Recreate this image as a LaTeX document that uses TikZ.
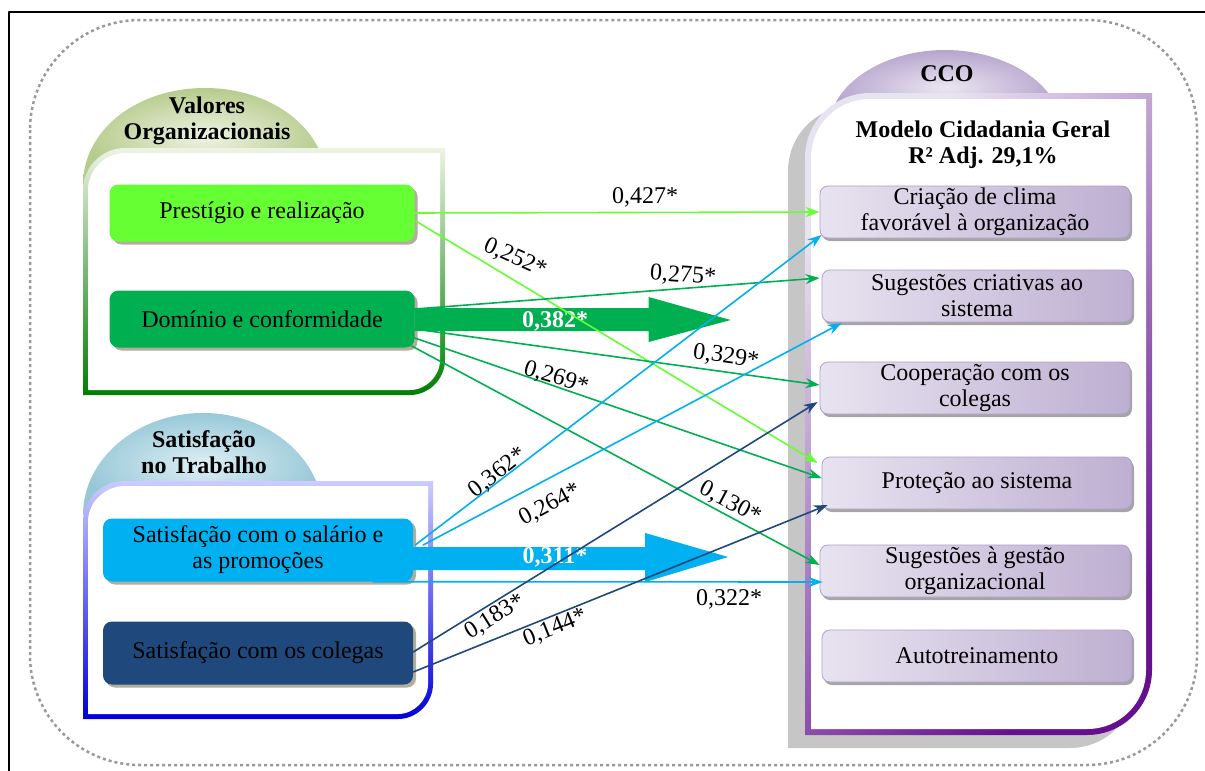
\documentclass[tikz,border=0pt]{standalone}
\usepackage{fontspec}
\setmainfont{Liberation Serif}
\usetikzlibrary{arrows.meta,calc,shadows}

\definecolor{verdeclaro}{HTML}{66FF33}
\definecolor{verde}{HTML}{00B050}
\definecolor{azulclaro}{HTML}{00B0F0}
\definecolor{azulesc}{HTML}{1F497D}
\definecolor{lil1}{HTML}{E8E3F0}
\definecolor{lil2}{HTML}{BDAFD1}
\definecolor{lil3}{HTML}{AE9FC6}
\definecolor{roxo}{HTML}{66108F}
\definecolor{oliva1}{HTML}{EEF3E3}
\definecolor{oliva2}{HTML}{B6CB8C}
\definecolor{ciano1}{HTML}{DDEFF5}
\definecolor{ciano2}{HTML}{98C8D8}
\definecolor{cupula1}{HTML}{EAE5F1}
\definecolor{cupula2}{HTML}{B5A5CD}

\begin{document}
\begin{tikzpicture}[x=1pt, y=-1pt, >={Stealth[length=14pt,width=10pt]}, font=\fontsize{24}{26}\selectfont, line join=round, line cap=round,
	caixa/.style={rounded corners=9pt, minimum width=305pt, minimum height=57pt, align=center, inner sep=1pt,
		drop shadow={shadow xshift=3pt, shadow yshift=-3pt, fill=gray!80!olive, opacity=0.7}},
	cco/.style={rounded corners=8pt, minimum width=310pt, minimum height=52pt, align=center, inner sep=1pt,
		left color=lil1, right color=lil2, draw=lil3, line width=0.8pt,
		drop shadow={shadow xshift=2pt, shadow yshift=-3pt, fill=gray, opacity=0.7}},
	seta/.style={->, line width=1.6pt},
	coef/.style={inner sep=0pt},
	negrito/.style={font=\fontsize{24}{26}\selectfont\bfseries}]
	\useasboundingbox (0,0) rectangle (1205,771);
	
	% 1. Moldura da pagina e contorno pontilhado
	\draw[line width=1.3pt, line cap=butt] (9,771) -- (9,12) -- (1205,12);
	\draw[gray!80, line width=2.5pt, line cap=butt, dash pattern=on 3pt off 3pt, rounded corners=110pt] (30,20) rectangle (1197,765);
	
	% 2. Grupo Valores Organizacionais
	\shade[inner color=oliva1, outer color=oliva2] (83,185) .. controls (83,129) and (138,88) .. (205,88) .. controls (272,88) and (327,129) .. (327,185) -- cycle;
	\shade[top color=oliva1, bottom color=green!50!black] (83,395) -- (83,190) .. controls (83,167) and (102,148) .. (125,148) -- (445,148) -- (445,360) .. controls (445,379) and (429,395) .. (410,395) -- cycle;
	\fill[white] (88,390) -- (88,190) .. controls (88,170) and (105,153) .. (125,153) -- (440,153) -- (440,360) .. controls (440,376) and (426,390) .. (410,390) -- cycle;
	\node[negrito, align=center] (tvo) at (207,121) {Valores\\Organizacionais};
	
	% 3. Grupo Satisfacao no Trabalho
	\shade[inner color=ciano1, outer color=ciano2] (83,515) .. controls (83,459) and (137,413) .. (203,413) .. controls (269,413) and (323,459) .. (323,515) -- cycle;
	\shade[top color=blue!20!white, bottom color=blue!85!black] (83,719) -- (83,522) .. controls (83,499) and (102,481) .. (125,481) -- (433,481) -- (433,684) .. controls (433,703) and (417,719) .. (398,719) -- cycle;
	\fill[white] (88,714) -- (88,522) .. controls (88,502) and (105,486) .. (125,486) -- (428,486) -- (428,684) .. controls (428,700) and (414,714) .. (398,714) -- cycle;
	\node[negrito, align=center] (tst) at (204,452) {Satisfação\\no Trabalho};
	
	% 4. Grupo CCO
	\shade[inner color=cupula1, outer color=cupula2] (830,125) .. controls (830,86) and (882,50) .. (945,50) .. controls (1008,50) and (1060,86) .. (1060,125) -- cycle;
	\fill[gray!45, shift={(-17,13)}] (805,735) -- (805,158) .. controls (805,122) and (834,93) .. (870,93) -- (1152,93) -- (1152,670) .. controls (1152,706) and (1123,735) .. (1087,735) -- cycle;
	\shade[top color=lil1, bottom color=roxo, shading angle=45] (805,735) -- (805,158) .. controls (805,122) and (834,93) .. (870,93) -- (1152,93) -- (1152,670) .. controls (1152,706) and (1123,735) .. (1087,735) -- cycle;
	\fill[white] (811,729) -- (811,158) .. controls (811,125) and (837,99) .. (870,99) -- (1146,99) -- (1146,670) .. controls (1146,703) and (1120,729) .. (1087,729) -- cycle;
	\node[negrito] (tcco) at (947,74) {CCO};
	\node[negrito, align=center] (tmod) at (983,145) {Modelo Cidadania Geral\\R² Adj. 29,1\%};
	
	% 5. Caixas da esquerda
	\node[caixa, fill=verdeclaro] (pres) at (262,213) {Prestígio e realização};
	\node[caixa, fill=verde] (dom) at (262,319) {Domínio e conformidade};
	\node[caixa, fill=azulclaro, minimum width=310pt, minimum height=63pt] (sal) at (258,550) {Satisfação com o salário e\\as promoções};
	\node[caixa, fill=azulesc, minimum width=310pt, minimum height=63pt] (col) at (258,653) {Satisfação com os colegas};
	
	% 6. Caixas da direita
	\node[cco] (clima) at (975,212) {Criação de clima\\favorável à organização};
	\node[cco] (criat) at (977,296) {Sugestões criativas ao\\sistema};
	\node[cco] (coop) at (975,388) {Cooperação com os\\colegas};
	\node[cco] (prot) at (977,483) {Proteção ao sistema};
	\node[cco] (gest) at (975,571) {Sugestões à gestão\\organizacional};
	\node[cco] (auto) at (977,656) {Autotreinamento};
	
	% 7. Setas largas
	\fill[verde] ($(dom.east)+(0,-11)$) -- ++(234,0) -- ++(0,-11) -- ++(82,23) -- ++(-82,22) -- ++(0,-11) -- ($(dom.east)+(0,12)$) -- cycle;
	\fill[azulclaro] ($(sal.east)+(0,-3)$) -- ++(232,0) -- ++(0,-14) -- ++(83,24) -- ++(-83,25) -- ++(0,-12) -- ($(sal.east)+(0,20)$) -- cycle;
	\node[negrito, text=white] (b382) at (555,321) {0,382*};
	\node[negrito, text=white] (b311) at (555,557) {0,311*};
	
	% 8. Setas finas
	\draw[seta, verdeclaro] (pres.east) -- (clima.west);
	\draw[seta, verdeclaro] ($(pres.east)+(1,8)$) -- ($(prot.west)+(-4,-20)$);
	\draw[seta, verde] ($(dom.east)+(0,-10)$) -- ($(criat.west)+(-2,-18)$);
	\draw[seta, verde] ($(dom.east)+(0,10)$) -- ($(coop.west)+(0,-3)$);
	\draw[seta, verde] ($(dom.east)+(0,19)$) -- ($(prot.west)+(0,-5)$);
	\draw[seta, verde] ($(dom.east)+(-3,27)$) -- ($(gest.west)+(0,-6)$);
	\draw[seta, azulclaro] ($(sal.east)+(2,-5)$) -- ($(clima.west)+(2,23)$);
	\draw[seta, azulclaro] ($(sal.east)+(10,-5)$) -- ($(criat.west)+(20,27)$);
	\draw[seta, azulclaro] ($(sal.south east)+(-40,0)$) -- ($(gest.west)+(3,11)$);
	\draw[seta, azulesc] ($(col.east)+(0,-1)$) -- ($(coop.west)+(-2,14)$);
	\draw[seta, azulesc] ($(col.east)+(0,19)$) -- ($(prot.west)+(6,22)$);
	
	% 9. Coeficientes
	\node[coef] (c427) at (645,197) {0,427*};
	\node[coef, rotate=-24] (c252) at (515,258) {0,252*};
	\node[coef, rotate=-4] (c275) at (683,276) {0,275*};
	\node[coef, rotate=-8] (c329) at (726,357) {0,329*};
	\node[coef, rotate=-17] (c269) at (556,378) {0,269*};
	\node[coef, rotate=-28] (c130) at (730,503) {0,130*};
	\node[coef, rotate=38] (c362) at (498,473) {0,362*};
	\node[coef, rotate=28] (c264) at (550,505) {0,264*};
	\node[coef] (c322) at (729,599) {0,322*};
	\node[coef, rotate=32] (c183) at (495,617) {0,183*};
	\node[coef, rotate=22] (c144) at (555,628) {0,144*};
	
\end{tikzpicture}
\end{document}
